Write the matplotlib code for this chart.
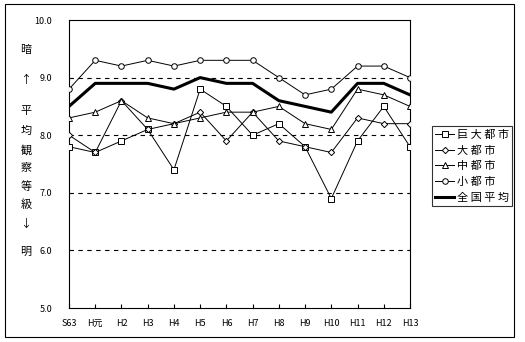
import matplotlib
matplotlib.use('Agg')
import matplotlib.pyplot as plt
from matplotlib.patches import Rectangle

plt.rcParams['font.family'] = ['Noto Sans CJK JP', 'DejaVu Sans']

years = ['S63', 'H元', 'H2', 'H3', 'H4', 'H5', 'H6', 'H7', 'H8', 'H9', 'H10', 'H11', 'H12', 'H13']
kyodai = [7.8, 7.7, 7.9, 8.1, 7.4, 8.8, 8.5, 8.0, 8.2, 7.8, 6.9, 7.9, 8.5, 7.8]
daitoshi = [8.0, 7.7, 8.6, 8.1, 8.2, 8.4, 7.9, 8.4, 7.9, 7.8, 7.7, 8.3, 8.2, 8.2]
chutoshi = [8.3, 8.4, 8.6, 8.3, 8.2, 8.3, 8.4, 8.4, 8.5, 8.2, 8.1, 8.8, 8.7, 8.5]
shotoshi = [8.8, 9.3, 9.2, 9.3, 9.2, 9.3, 9.3, 9.3, 9.0, 8.7, 8.8, 9.2, 9.2, 9.0]
zenkoku = [8.5, 8.9, 8.9, 8.9, 8.8, 9.0, 8.9, 8.9, 8.6, 8.5, 8.4, 8.9, 8.9, 8.7]

W, H = 525, 342
fig = plt.figure(figsize=(W / 100, H / 100), dpi=100)
fig.patches.append(Rectangle((5 / W, 1 - 337 / H), 509 / W, 333 / H, transform=fig.transFigure,
                             fill=False, edgecolor='black', linewidth=0.8))

ax = fig.add_axes([69 / W, 1 - 308 / H, 341 / W, 288 / H])
x = range(len(years))

for yv in [6, 7, 8, 9]:
    ax.axhline(yv, color='black', linestyle=(0, (4, 4)), linewidth=0.8, zorder=1)

mk = dict(color='black', linewidth=0.7, markerfacecolor='white', markeredgecolor='black',
          markeredgewidth=0.7, zorder=3)
ax.plot(x, kyodai, marker='s', markersize=4, label='巨大都市', **mk)
ax.plot(x, daitoshi, marker='D', markersize=3.2, label='大都市', **mk)
ax.plot(x, chutoshi, marker='^', markersize=4.5, label='中都市', **mk)
ax.plot(x, shotoshi, marker='o', markersize=4, label='小都市', **mk)
ax.plot(x, zenkoku, color='black', linewidth=2.2, label='全国平均', zorder=4)

ax.set_xlim(0, len(years) - 1)
ax.set_ylim(5, 10)
ax.set_xticks(list(x))
ax.set_xticklabels(years, fontsize=6.5)
ax.set_yticks([5, 6, 7, 8, 9, 10])
ax.set_yticklabels(['5.0', '6.0', '7.0', '8.0', '9.0', '10.0'], fontsize=6.5)
ax.tick_params(axis='x', direction='in', length=3, width=0.8, pad=8)
ax.tick_params(axis='y', length=0, pad=12)
for s in ax.spines.values():
    s.set_linewidth(0.8)

side = [('暗', 50), ('↑', 80), ('平', 111), ('均', 131), ('観', 150), ('察', 168),
        ('等', 187), ('級', 205), ('↓', 224), ('明', 252)]
for ch, yp in side:
    fig.text(26 / W, 1 - yp / H, ch, fontsize=8, ha='center', va='center')

leg = ax.legend(loc='upper left', bbox_to_anchor=(432 / W, 1 - 126 / H), bbox_transform=fig.transFigure,
                fontsize=8, frameon=True, fancybox=False, edgecolor='black', handlelength=1.7,
                handletextpad=0.25, borderpad=0.3, labelspacing=0.5, borderaxespad=0)
leg.get_frame().set_linewidth(0.8)
for t in leg.get_texts():
    t.set_text(' '.join(t.get_text()))

fig.savefig('out.png', dpi=100)
